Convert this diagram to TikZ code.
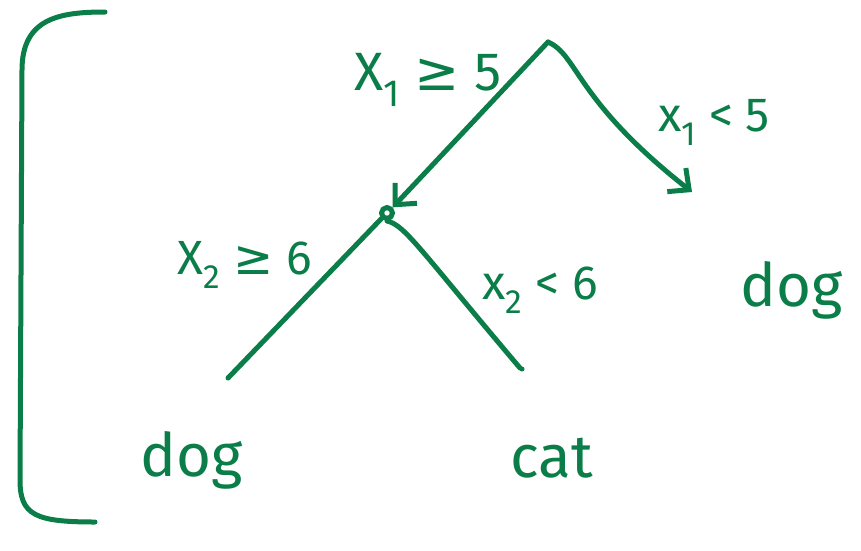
\documentclass[tikz,border=0pt]{standalone}
\usepackage{fontspec}
\setmainfont{Fira Sans}
\newfontfamily\symf{DejaVu Sans}
\usetikzlibrary{arrows.meta}
\definecolor{ink}{RGB}{10,125,72}
\tikzset{
  pen/.style={draw=ink, line width=5pt, line cap=round, line join=round},
  lab/.style={text=ink, font=\fontsize{48}{52}\selectfont, inner sep=0pt},
  leaf/.style={text=ink, font=\fontsize{60}{66}\selectfont, inner sep=0pt},
  tip/.style={-{Straight Barb[length=16pt,width=30pt,line width=5pt]}},
}
\newcommand{\gsym}{{\symf ≥}}
\begin{document}
\begin{tikzpicture}[x=1pt,y=-1pt]
\useasboundingbox (0,0) rectangle (861,550);
% bracket
\draw[pen] (105,12) .. controls (60,12) and (22,18) .. (22,70) -- (20,480) .. controls (20,515) and (35,522) .. (95,522);
% nodes
\coordinate (r) at (548,42);
\node[pen, circle, minimum size=11pt, inner sep=0pt] (n2) at (387,213) {};
\coordinate (ll) at (228,378);
\coordinate (lr) at (520,368);
\coordinate (rr) at (692,192);
% edges
\draw[pen, tip] (r) -- (n2.north east);
\draw[pen, tip] (r) .. controls (578,55) and (575,100) .. (rr);
\draw[pen] (n2.south west) -- (ll);
\draw[pen] (n2.south) .. controls (405,225) and (420,250) .. (lr);
\fill[ink] (lr) ++(2,1) circle (2.5pt);
% labels
\node[lab, font=\fontsize{54}{58}\selectfont] (l1) at (428,80) {X\textsubscript{1} \gsym\ 5};
\node[lab] (l2) at (714,122) {x\textsubscript{1} < 5};
\node[lab] (l3) at (245,265) {X\textsubscript{2} \gsym\ 6};
\node[lab] (l4) at (540,290) {x\textsubscript{2} < 6};
\node[leaf] (d1) at (192,460) {dog};
\node[leaf] (c1) at (552,458) {cat};
\node[leaf] (d2) at (792,290) {dog};
\end{tikzpicture}
\end{document}
